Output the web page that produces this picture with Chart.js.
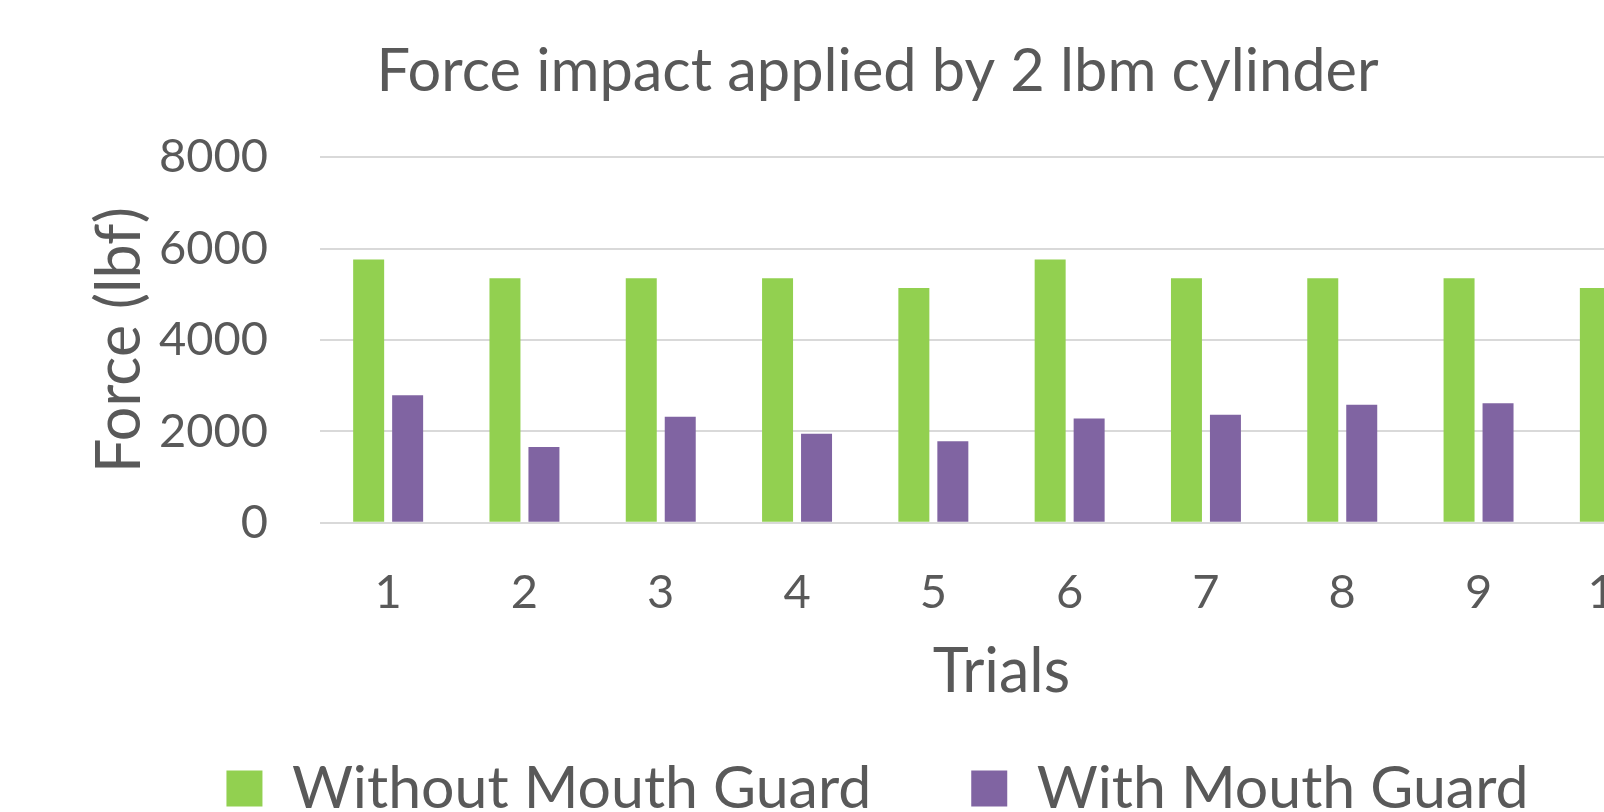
<!DOCTYPE html>
<html>
<head>
<meta charset="utf-8">
<title>Force impact applied by 2 lbm cylinder</title>
<script src="https://cdn.jsdelivr.net/npm/chart.js@4/dist/chart.umd.min.js"></script>
<style>
  html, body { margin: 0; padding: 0; background: #fff; overflow: hidden; }
  #wrap { width: 1760px; height: 828px; }
</style>
</head>
<body>
<div id="wrap"><canvas id="forceChart" width="1760" height="828"></canvas></div>
<script>
// chart values
var trials = ['1', '2', '3', '4', '5', '6', '7', '8', '9', '10'];
var withoutGuard = [5765, 5350, 5350, 5350, 5140, 5760, 5350, 5350, 5350, 5140];
var withGuard = [2790, 1660, 2320, 1950, 1785, 2280, 2365, 2580, 2615, 2100];
var yTicks = [0, 2000, 4000, 6000, 8000];

var textColor = '#595959';
var fontFamily = 'Lato, "Open Sans", sans-serif';

document.addEventListener('DOMContentLoaded', function () {
  var ctx = document.getElementById('forceChart');

  new Chart(ctx, {
    type: 'bar',
    data: {
      labels: trials,
      datasets: [{
        label: 'Without Mouth Guard',
        data: withoutGuard,
        backgroundColor: '#92d050',
        borderWidth: 0
      }, {
        label: 'With Mouth Guard',
        data: withGuard,
        backgroundColor: '#8064a2',
        borderWidth: 0
      }]
    },
    options: {
      responsive: false,
      animation: false,
      devicePixelRatio: 1,
      categoryPercentage: 0.572,
      barPercentage: 0.795,
      layout: { padding: { left: 72, right: 77, top: 0, bottom: 0 } },
      plugins: {
        tooltip: { enabled: false },
        title: {
          display: true,
          text: 'Force impact applied by 2 lbm cylinder',
          color: textColor,
          font: { family: fontFamily, size: 59.5, weight: 'normal', lineHeight: 1.2 },
          padding: { top: 36.3, bottom: 49.6 }
        },
        legend: {
          position: 'bottom',
          labels: {
            color: textColor,
            font: { family: fontFamily, size: 59 },
            boxWidth: 36,
            boxHeight: 36,
            padding: 100
          }
        }
      },
      scales: {
        x: {
          grid: { display: false },
          border: { display: false },
          ticks: { color: textColor, font: { family: fontFamily, size: 47 }, padding: 34 },
          title: {
            display: true,
            text: 'Trials',
            color: textColor,
            font: { family: fontFamily, size: 61, lineHeight: 1.2 },
            padding: { top: 0, bottom: -49.6 }
          },
          afterFit: function (scale) { scale.height = 136.3; }
        },
        y: {
          min: 0,
          max: 8000,
          afterBuildTicks: function (scale) {
            scale.ticks = yTicks.map(function (v) { return { value: v }; });
          },
          grid: { color: '#d9d9d9', lineWidth: 2, drawTicks: false },
          border: { display: false },
          ticks: {
            color: textColor,
            font: { family: fontFamily, size: 47 },
            padding: 52,
            callback: function (value) { return String(value); }
          },
          title: {
            display: true,
            text: 'Force (lbf)',
            color: textColor,
            font: { family: fontFamily, size: 61, lineHeight: 1.2 },
            padding: { top: 11.4, bottom: 0 }
          },
          afterFit: function (scale) { scale.width = 248; }
        }
      }
    }
  });
});
</script>
</body>
</html>
